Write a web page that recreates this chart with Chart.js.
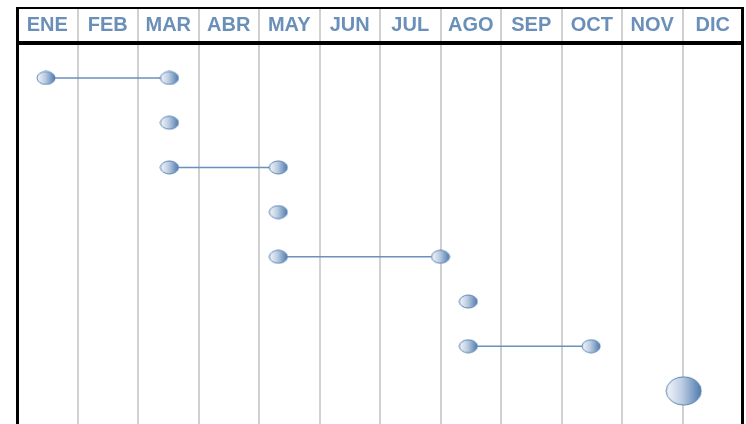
<!DOCTYPE html>
<html>
<head>
<meta charset="utf-8">
<script src="https://cdn.jsdelivr.net/npm/chart.js@4/dist/chart.umd.min.js"></script>
<style>
  html, body { margin: 0; padding: 0; background: #ffffff; }
  canvas { display: block; }
</style>
</head>
<body>
<canvas id="c" width="746" height="424"></canvas>
<script>
// ---- data (month positions: 0 = start of ENE, 12 = end of DIC) ----
const months = ['ENE','FEB','MAR','ABR','MAY','JUN','JUL','AGO','SEP','OCT','NOV','DIC'];
const taskRows = [1, 2, 3, 4, 5, 6, 7, 8];
const taskStart = [0.48, 2.52, 2.52, 4.32, 4.32, 7.46, 7.46, 11.02];
const taskEnd   = [2.52, null, 4.32, null, 7.0, null, 9.49, null];
const isMilestone = [false, false, false, false, false, false, false, true];

// ---- marker images ----
function makeMarker(w, h) {
  const cv = document.createElement('canvas');
  cv.width = w + 2; cv.height = h + 2;
  const g = cv.getContext('2d');
  const grad = g.createLinearGradient(1, 0, w + 1, 0);
  grad.addColorStop(0, '#f4f7fb');
  grad.addColorStop(0.45, '#bccde2');
  grad.addColorStop(1, '#4f7bae');
  g.beginPath();
  g.ellipse(cv.width / 2, cv.height / 2, w / 2, h / 2, 0, 0, Math.PI * 2);
  g.fillStyle = grad;
  g.fill();
  g.lineWidth = 1;
  g.strokeStyle = '#5a82b1';
  g.stroke();
  return cv;
}
const smallMarker = makeMarker(18, 13);
const bigMarker = makeMarker(35, 28);

const datasets = taskRows.map((row, i) => {
  const pts = [{ x: taskStart[i], y: row }];
  if (taskEnd[i] !== null) pts.push({ x: taskEnd[i], y: row });
  return {
    data: pts,
    showLine: true,
    borderColor: '#6a90bd',
    borderWidth: 1.5,
    pointStyle: isMilestone[i] ? bigMarker : smallMarker,
    pointRadius: 8,
    pointHoverRadius: 8,
    xAxisID: 'x',
    yAxisID: 'y'
  };
});

const frame = {
  id: 'frame',
  beforeDatasetsDraw(chart) {
    const ctx = chart.ctx;
    const xs = chart.scales.x;
    const top = chart.chartArea.top;
    ctx.save();
    // header gridlines
    ctx.strokeStyle = '#d0d0d0';
    ctx.lineWidth = 2;
    for (let m = 1; m < 12; m++) {
      const px = Math.round(xs.getPixelForValue(m));
      ctx.beginPath();
      ctx.moveTo(px, 9);
      ctx.lineTo(px, top);
      ctx.stroke();
    }
    // black frame
    ctx.fillStyle = '#000000';
    ctx.fillRect(16, 7, 728, 2);      // top
    ctx.fillRect(16, top - 4, 728, 4); // under header
    ctx.fillRect(16, 7, 3, 424);      // left
    ctx.fillRect(741, 7, 3, 424);     // right
    ctx.restore();
  }
};

new Chart(document.getElementById('c'), {
  type: 'scatter',
  data: { datasets },
  options: {
    responsive: false,
    animation: false,
    events: [],
    layout: { autoPadding: false, padding: { left: 17, right: 3, top: 9, bottom: 0 } },
    plugins: { legend: { display: false }, tooltip: { enabled: false } },
    scales: {
      x: { type: 'linear', min: 0, max: 12, display: false },
      months: {
        type: 'category',
        labels: months,
        position: 'top',
        offset: true,
        grid: { offset: true, color: '#d0d0d0', lineWidth: 2, drawTicks: false },
        border: { display: false },
        ticks: {
          color: '#6a8fb9',
          font: { family: "'Liberation Sans', Arial, sans-serif", size: 20, weight: 'bold' },
          padding: 8,
          maxRotation: 0,
          autoSkip: false
        },
        afterFit(s) { s.height = 36; }
      },
      y: { type: 'linear', min: 0.262, max: 8.74, reverse: true, display: false }
    }
  },
  plugins: [frame]
});
</script>
</body>
</html>
